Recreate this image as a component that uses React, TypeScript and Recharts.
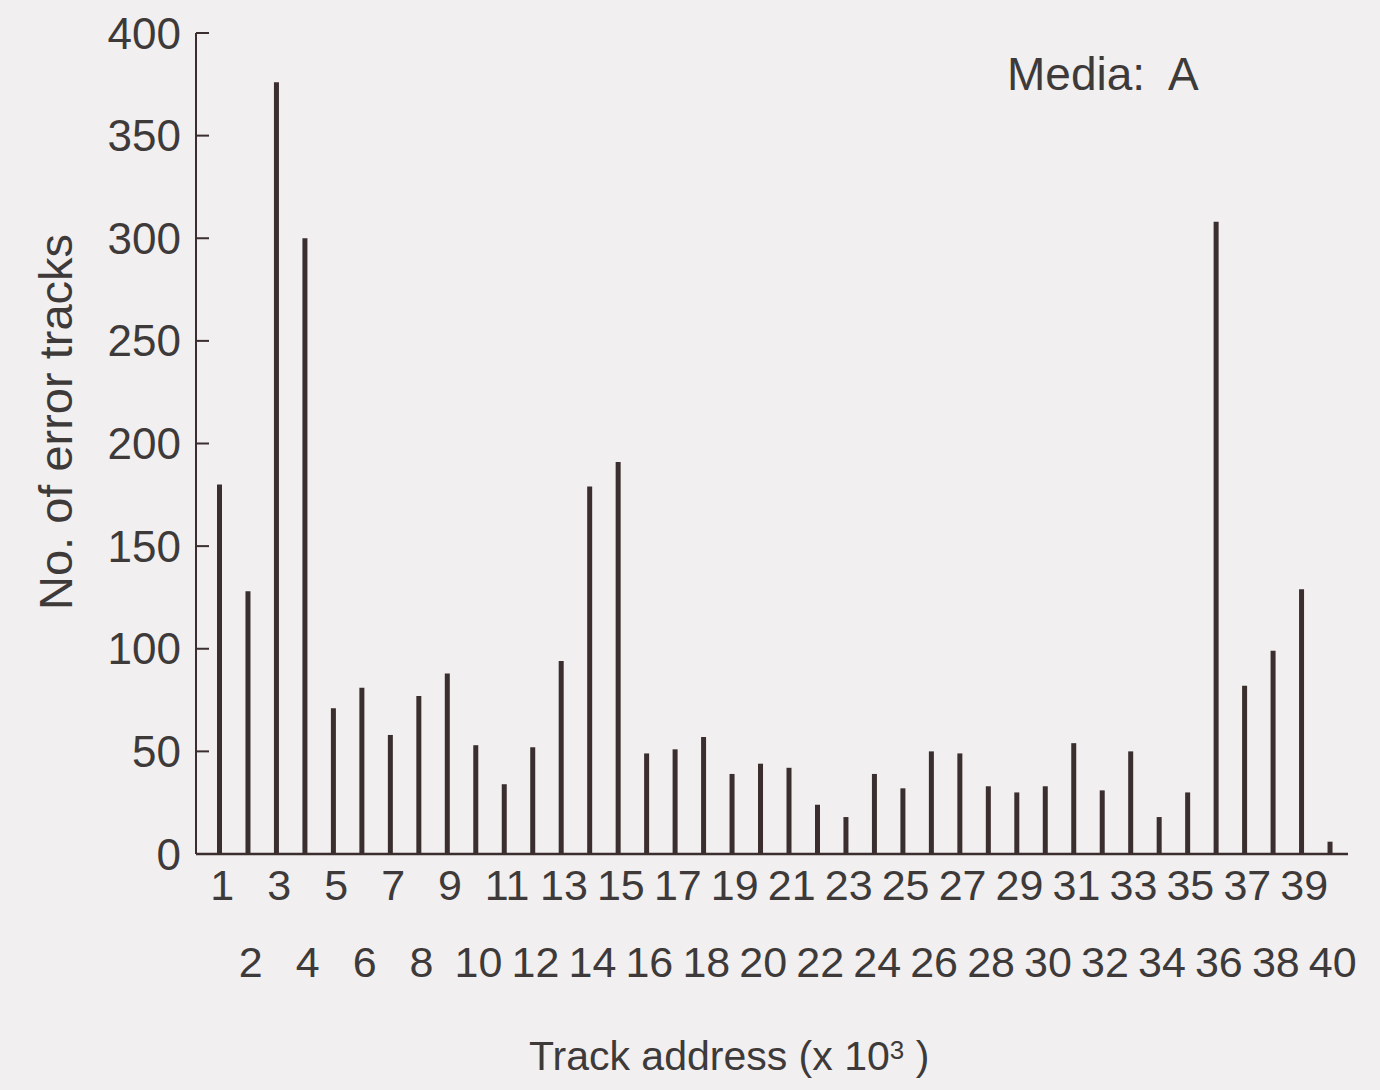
import React from 'react';
import { BarChart, Bar, XAxis, YAxis } from 'recharts';

const trackAddresses = [
  '1', '2', '3', '4', '5', '6', '7', '8', '9', '10',
  '11', '12', '13', '14', '15', '16', '17', '18', '19', '20',
  '21', '22', '23', '24', '25', '26', '27', '28', '29', '30',
  '31', '32', '33', '34', '35', '36', '37', '38', '39', '40',
];

const errorTracks = [
  180, 128, 376, 300, 71, 81, 58, 77, 88, 53,
  34, 52, 94, 179, 191, 49, 51, 57, 39, 44,
  42, 24, 18, 39, 32, 50, 49, 33, 30, 33,
  54, 31, 50, 18, 30, 308, 82, 99, 129, 6,
];

const yTicks = [0, 50, 100, 150, 200, 250, 300, 350, 400];

const data = trackAddresses.map((t, i) => ({ track: t, errors: errorTracks[i] }));

const INK = '#3a2e2e';
const TEXT = '#3e3a3a';
const BG = '#f1efef';
const FONT = '"Liberation Sans", Arial, Helvetica, sans-serif';

const YTick = (props: any) => {
  const { x, y, payload } = props;
  return (
    <g>
      <line x1={x} x2={x + 13} y1={y} y2={y} stroke={INK} strokeWidth={2} />
      <text
        x={x - 15}
        y={y}
        textAnchor="end"
        dominantBaseline="central"
        fill={TEXT}
        fontSize={44}
        fontFamily={FONT}
      >
        {payload.value}
      </text>
    </g>
  );
};

const XTick = (props: any) => {
  const { x, y, payload } = props;
  const n = parseInt(payload.value, 10);
  const odd = n % 2 === 1;
  return (
    <text
      x={x + 3}
      y={odd ? y + 31 : y + 108}
      textAnchor="middle"
      dominantBaseline="central"
      fill={TEXT}
      fontSize={43}
      fontFamily={FONT}
    >
      {payload.value}
    </text>
  );
};

export default function App() {
  return (
    <div
      style={{
        position: 'absolute',
        left: 0,
        top: 0,
        width: 1380,
        height: 1090,
        background: BG,
        overflow: 'hidden',
        fontFamily: FONT,
        color: TEXT,
      }}
    >
      <BarChart
        width={1380}
        height={1090}
        data={data}
        margin={{ top: 33, right: 32, left: 136, bottom: 86 }}
        barCategoryGap={0}
      >
        <YAxis
          width={60}
          domain={[0, 400]}
          ticks={yTicks}
          interval={0}
          tickLine={false}
          tickSize={0}
          tickMargin={0}
          axisLine={{ stroke: INK, strokeWidth: 2 }}
          tick={<YTick />}
        />
        <XAxis
          dataKey="track"
          height={150}
          interval={0}
          tickLine={false}
          tickSize={0}
          tickMargin={0}
          padding={{ left: 9, right: 4 }}
          axisLine={{ stroke: INK, strokeWidth: 2.5 }}
          tick={<XTick />}
        />
        <Bar dataKey="errors" fill={INK} barSize={5} isAnimationActive={false} />
      </BarChart>

      <div
        style={{
          position: 'absolute',
          left: 1007,
          top: 48,
          fontSize: 46,
          lineHeight: '52px',
          whiteSpace: 'pre',
        }}
      >
        {'Media:  A'}
      </div>

      <div
        style={{
          position: 'absolute',
          left: 529,
          top: 1032,
          fontSize: 41,
          lineHeight: '48px',
          whiteSpace: 'pre',
        }}
      >
        Track address (x 10
        <sup style={{ fontSize: 26, verticalAlign: 'top', position: 'relative', top: -6 }}>3</sup>
        {' )'}
      </div>

      <div
        style={{
          position: 'absolute',
          left: 56,
          top: 422,
          fontSize: 47,
          lineHeight: '52px',
          whiteSpace: 'pre',
          transform: 'translate(-50%, -50%) rotate(-90deg)',
        }}
      >
        No. of error tracks
      </div>
    </div>
  );
}
